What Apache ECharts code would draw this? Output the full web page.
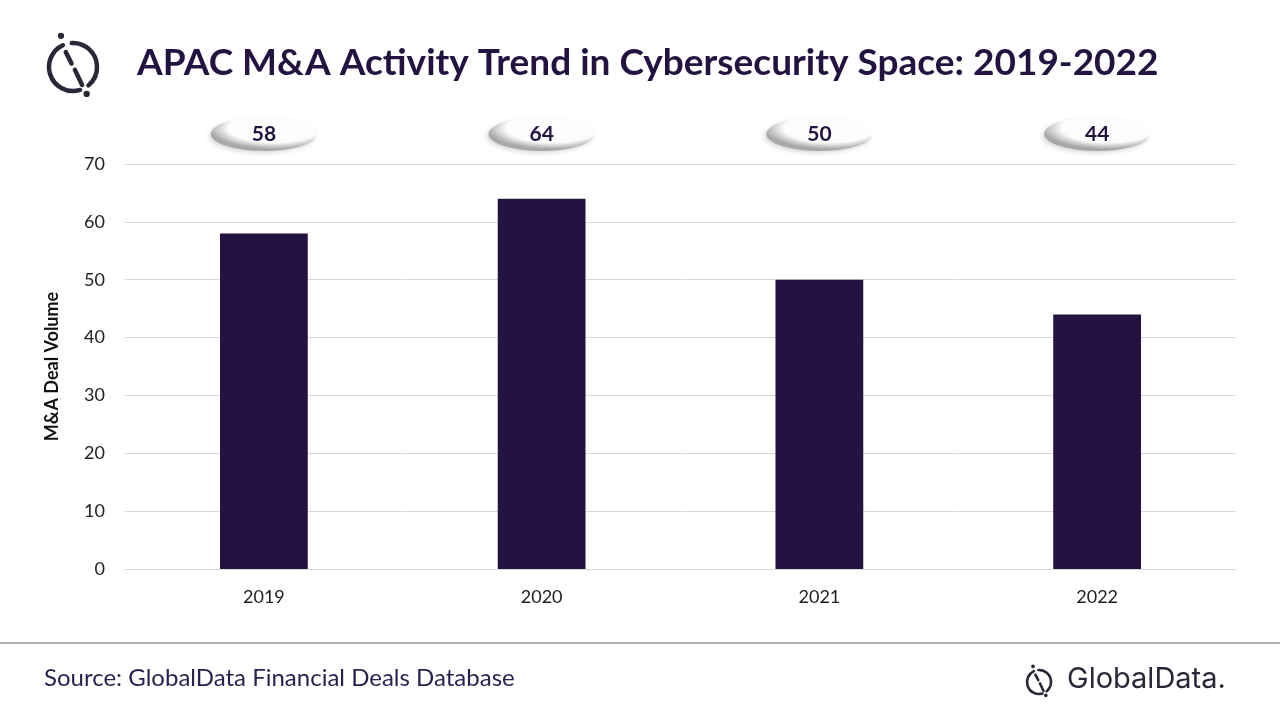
<!DOCTYPE html>
<html>
<head>
<meta charset="utf-8">
<script src="https://cdn.jsdelivr.net/npm/echarts@6/dist/echarts.min.js"></script>
<style>
  html, body { margin: 0; padding: 0; background: #fff; }
  #chart { width: 1280px; height: 720px; }
</style>
</head>
<body>
<div id="chart"></div>
<script>
var years = ['2019', '2020', '2021', '2022'];
var dealVolume = [58, 64, 50, 44];
var yTicks = [0, 10, 20, 30, 40, 50, 60, 70];

var purple = '#231340';
var font = 'Lato';

var chartDom = document.getElementById('chart');
var myChart = echarts.init(chartDom);
var option;

// little broken-ring logo, drawn from a center point and radius
function logo(cx, cy, r, w) {
  var rad = Math.PI / 180;
  var style = { stroke: '#2b2738', lineWidth: w, fill: 'none', lineCap: 'round' };
  return [
    { type: 'arc', shape: { cx: cx, cy: cy, r: r, startAngle: 73 * rad, endAngle: 245 * rad, clockwise: true }, style: style },
    { type: 'arc', shape: { cx: cx, cy: cy, r: r, startAngle: 267 * rad, endAngle: 410 * rad, clockwise: true }, style: style },
    { type: 'line', shape: { x1: cx - r * 0.3, y1: cy - r * 0.62, x2: cx - r * 0.06, y2: cy - r * 0.15 }, style: style },
    { type: 'line', shape: { x1: cx + r * 0.08, y1: cy + r * 0.12, x2: cx + r * 0.38, y2: cy + r * 0.75 }, style: style },
    { type: 'circle', shape: { cx: cx - r * 0.5, cy: cy - r * 1.3, r: w * 0.7 }, style: { fill: '#2b2738' } },
    { type: 'circle', shape: { cx: cx + r * 0.57, cy: cy + r * 1.12, r: w * 0.7 }, style: { fill: '#2b2738' } }
  ];
}

var graphics = [].concat(
  logo(73, 67, 24, 4.5),
  [
    { type: 'text', left: 137, top: 45, style: { text: 'APAC M&A Activity Trend in Cybersecurity Space: 2019-2022', fontFamily: font, fontWeight: 'bold', fontSize: 37, fill: purple } },
    { type: 'line', shape: { x1: 0, y1: 643, x2: 1280, y2: 643 }, style: { stroke: '#9a9a9a', lineWidth: 1.5 } },
    { type: 'text', left: 44, top: 666, style: { text: 'Source: GlobalData Financial Deals Database', fontFamily: font, fontSize: 24, fill: '#2b1f4f' } }
  ],
  logo(1039, 682, 12, 2.6),
  [
    { type: 'text', left: 1067, top: 665, style: { text: 'GlobalData.', fontFamily: 'Inter', fontSize: 29, fill: '#2b2738' } }
  ]
);

option = {
  backgroundColor: '#fff',
  animation: false,
  graphic: graphics,
  grid: [
    { left: 125, right: 44, top: 164, bottom: 151 },
    { left: 125, right: 44, top: 117, height: 34 }
  ],
  xAxis: [
    {
      type: 'category',
      data: years,
      gridIndex: 0,
      axisLine: { lineStyle: { color: '#d9d9d9' } },
      axisTick: { show: false },
      axisLabel: { color: '#222', fontFamily: font, fontSize: 18, margin: 19 }
    },
    { type: 'category', data: years, gridIndex: 1, show: false }
  ],
  yAxis: [
    {
      type: 'value',
      gridIndex: 0,
      min: yTicks[0],
      max: yTicks[yTicks.length - 1],
      interval: 10,
      name: 'M&A Deal Volume',
      nameLocation: 'middle',
      nameGap: 64,
      nameTextStyle: { color: '#111', fontFamily: font, fontWeight: 'bold', fontSize: 18 },
      axisLine: { show: false },
      axisTick: { show: false },
      axisLabel: { color: '#222', fontFamily: font, fontSize: 18, margin: 20 },
      splitLine: { lineStyle: { color: '#d9d9d9' } }
    },
    { type: 'value', gridIndex: 1, min: 0, max: 1, show: false }
  ],
  series: [
    {
      type: 'bar',
      xAxisIndex: 0,
      yAxisIndex: 0,
      data: dealVolume,
      barWidth: '31.6%',
      itemStyle: { color: purple }
    },
    {
      type: 'scatter',
      xAxisIndex: 1,
      yAxisIndex: 1,
      data: years.map(function (y, i) { return [y, 0.5, dealVolume[i]]; }),
      symbol: 'circle',
      symbolSize: [106, 34],
      itemStyle: {
        opacity: 1,
        color: {
          type: 'radial', x: 0.6, y: 0.32, r: 0.62,
          colorStops: [
            { offset: 0, color: '#ffffff' },
            { offset: 0.7, color: '#fcfcfc' },
            { offset: 1, color: '#a8a8a8' }
          ]
        },
        shadowColor: 'rgba(0,0,0,0.15)',
        shadowBlur: 4,
        shadowOffsetX: -2,
        shadowOffsetY: 2
      },
      emphasis: { disabled: true },
      label: {
        show: true,
        position: 'inside',
        formatter: function (p) { return p.value[2]; },
        color: purple,
        fontFamily: font,
        fontWeight: 'bold',
        fontSize: 21
      }
    }
  ]
};

option && myChart.setOption(option);
</script>
</body>
</html>
